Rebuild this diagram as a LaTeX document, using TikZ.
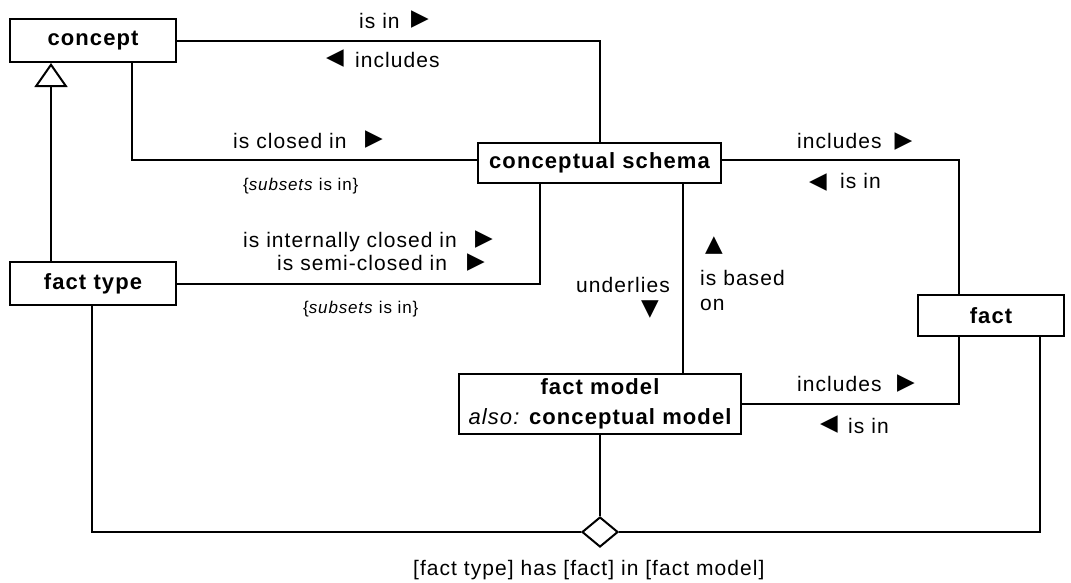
\documentclass[tikz,border=0pt]{standalone}
\usepackage{fontspec}
\setmainfont{Liberation Sans}[LetterSpace=5]
\newfontfamily\symfont{DejaVu Sans}
\usetikzlibrary{arrows.meta,shapes.geometric}
\tikzset{
  cls/.style={draw, line width=2pt, rectangle, inner sep=0pt, font=\bfseries\fontsize{22}{30}\selectfont},
  conn/.style={line width=2pt},
  lbl/.style={anchor=base west, inner sep=0pt, font=\fontsize{21}{25}\selectfont},
  small/.style={anchor=base west, inner sep=0pt, font=\fontsize{17}{20}\selectfont},
  tri/.style={inner sep=0pt, anchor=center, font=\symfont\fontsize{23}{26}\selectfont},
}
\begin{document}
\begin{tikzpicture}[x=1pt,y=-1pt]
\useasboundingbox (0,0) rectangle (1071,582);
% classes
\node[cls, minimum width=166pt, minimum height=43pt] (concept) at (93,40.5) {concept};
\node[cls, minimum width=166pt, minimum height=43pt] (ft) at (93,283.5) {fact type};
\node[cls, minimum width=243pt, minimum height=40pt] (schema) at (599.5,163) {conceptual schema};
\node[cls, minimum width=282pt, minimum height=60pt, align=center] (fm) at (600,404) {fact model\\\mdseries\itshape also:\upshape\bfseries{} conceptual model};
\node[cls, minimum width=146pt, minimum height=41pt] (fact) at (991,315.5) {fact};
\node[draw, line width=2pt, shape=diamond, minimum width=36pt, minimum height=30pt, inner sep=0pt] (dia) at (600,532) {};
% helper columns
\coordinate (v51) at (51,0);
\coordinate (v92) at (92,0);
\coordinate (v132) at (132,0);
\coordinate (v540) at (540,0);
\coordinate (v683) at (683,0);
\coordinate (v959) at (959,0);
\coordinate (v1040) at (1040,0);
% connectors
\draw[conn] (concept.east) -| (schema.north);
\draw[conn] (concept.south -| v132) |- ([yshift=3pt]schema.west);
\draw[conn] (ft.east) -| (schema.south -| v540);
\draw[conn] ([yshift=3pt]schema.east) -| (fact.north -| v959);
\draw[conn] (schema.south -| v683) -- (fm.north -| v683);
\draw[conn] (fm.east) -| (fact.south -| v959);
\draw[conn] (fm.south) -- (dia.north);
\draw[conn] (ft.south -| v92) |- (dia.west);
\draw[conn] (fact.south -| v1040) |- (dia.east);
\draw[conn, -{Triangle[open, length=24pt, width=33pt]}] (ft.north -| v51) -- (concept.south -| v51);
% labels
\node[lbl] (l1) at (359,28) {is in};
\node[tri] (t1) at (420,19.5) {▶};
\node[tri] (t2) at (335,59) {◀};
\node[lbl] (l2) at (355,67) {includes};
\node[lbl] (l3) at (233,148) {is closed in};
\node[tri] (t3) at (374,140) {▶};
\node[small] (s1) at (243,190) {\{\textit{subsets} is in\}};
\node[lbl] (l4) at (243,247) {is internally closed in};
\node[tri] (t4) at (484,240) {▶};
\node[lbl] (l5) at (277,270) {is semi-closed in};
\node[tri] (t5) at (476,263) {▶};
\node[small] (s2) at (303,313) {\{\textit{subsets} is in\}};
\node[lbl] (l6) at (797,148) {includes};
\node[tri] (t6) at (903.5,142) {▶};
\node[tri] (t7) at (818,183) {◀};
\node[lbl] (l7) at (840,188) {is in};
\node[lbl] (l8) at (576,292) {underlies};
\node[tri] (t8) at (650,310) {▼};
\node[tri] (t9) at (714,246) {▲};
\node[lbl, anchor=north west, align=left] (l9) at (700,270) {is based\\on};
\node[lbl] (l10) at (797,391) {includes};
\node[tri] (t10) at (906,384) {▶};
\node[tri] (t11) at (829,425) {◀};
\node[lbl] (l11) at (848,433) {is in};
\node[lbl] (l12) at (413,575) {[fact type] has [fact] in [fact model]};
\end{tikzpicture}
\end{document}
